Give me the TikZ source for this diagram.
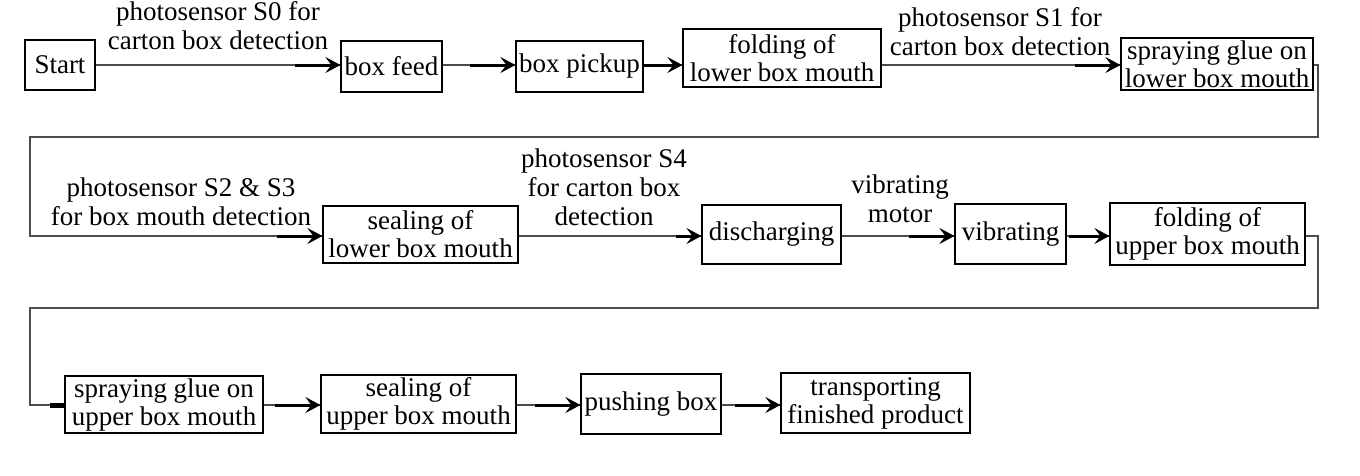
\documentclass[tikz,border=0pt]{standalone}
\usepackage{fontspec}
\setmainfont{Liberation Serif}
\usetikzlibrary{arrows.meta,calc}
\begin{document}
\begin{tikzpicture}[x=1pt,y=-1pt,
  box/.style={draw=black,line width=1.2pt,inner sep=1pt,align=center,
    font=\fontsize{27}{28}\selectfont},
  lab/.style={align=center,inner sep=0pt,anchor=base,
    font=\fontsize{27}{29}\selectfont},
  conn/.style={draw=black!70,line width=2.4pt},
  tip/.style={draw=black,line width=3pt,-{Stealth[length=15pt,width=16pt,inset=6pt]}}
]
\useasboundingbox (0,0) rectangle (1360,475);
\coordinate (r1) at (0,65);
\coordinate (r2) at (0,236);
\coordinate (r3) at (0,405);
\coordinate (rx) at (1318,0);
\coordinate (lx) at (30,0);
\coordinate (b1) at (0,137);
\coordinate (b2) at (0,308);

\node[box,minimum width=70,minimum height=50] (start) at (60,65) {Start};
\node[box,minimum width=101,minimum height=51] (feed) at (391.5,66.5) {box feed};
\node[box,minimum width=127,minimum height=51] (pickup) at (579.5,66.5) {box pickup};
\node[box,minimum width=198,minimum height=58] (foldL) at (782,58) {folding of\\lower box mouth};
\node[box,minimum width=192,minimum height=52] (sprayL) at (1217,64) {spraying glue on\\lower box mouth};
\node[box,minimum width=195,minimum height=57] (sealL) at (420.5,234.5) {sealing of\\lower box mouth};
\node[box,minimum width=139,minimum height=59] (dis) at (771.5,234.5) {discharging};
\node[box,minimum width=111,minimum height=60] (vib) at (1010.5,234) {vibrating};
\node[box,minimum width=195,minimum height=62] (foldU) at (1207.5,234) {folding of\\upper box mouth};
\node[box,minimum width=198,minimum height=57] (sprayU) at (164,404.5) {spraying glue on\\upper box mouth};
\node[box,minimum width=195,minimum height=58] (sealU) at (418.5,404) {sealing of\\upper box mouth};
\node[box,minimum width=140,minimum height=60] (push) at (651,404) {pushing box};
\node[box,minimum width=189,minimum height=60] (trans) at (875.5,403) {transporting\\finished product};

\node[lab] (l0) at (218,49) {photosensor S0 for\\carton box detection};
\node[lab] (l1) at (1000,55) {photosensor S1 for\\carton box detection};
\node[lab] (l23) at (181,225) {photosensor S2 \& S3\\for box mouth detection};
\node[lab] (l4) at (604,225) {photosensor S4\\for carton box\\detection};
\node[lab] (lv) at (900,222) {vibrating\\motor};

% row 1
\draw[conn] (start.east |- r1) -- (feed.west |- r1);
\draw[tip] ([xshift=-45]feed.west |- r1) -- (feed.west |- r1);
\draw[conn] (feed.east |- r1) -- (pickup.west |- r1);
\draw[tip] ([xshift=-45]pickup.west |- r1) -- (pickup.west |- r1);
\draw[conn] (pickup.east |- r1) -- (foldL.west |- r1);
\draw[tip] ([xshift=-38]foldL.west |- r1) -- (foldL.west |- r1);
\draw[conn] (foldL.east |- r1) -- (sprayL.west |- r1);
\draw[tip] ([xshift=-45]sprayL.west |- r1) -- (sprayL.west |- r1);
% wrap 1
\draw[conn] (sprayL.east |- r1) -- (rx |- r1) -- (rx |- b1) -- (lx |- b1) -- (lx |- r2) -- (sealL.west |- r2);
\draw[tip] ([xshift=-45]sealL.west |- r2) -- (sealL.west |- r2);
% row 2
\draw[conn] (sealL.east |- r2) -- (dis.west |- r2);
\draw[tip] ([xshift=-25]dis.west |- r2) -- (dis.west |- r2);
\draw[conn] (dis.east |- r2) -- (vib.west |- r2);
\draw[tip] ([xshift=-45]vib.west |- r2) -- (vib.west |- r2);
\draw[conn] (vib.east |- r2) -- (foldU.west |- r2);
\draw[tip] ([xshift=-40]foldU.west |- r2) -- (foldU.west |- r2);
% wrap 2
\draw[conn] (foldU.east |- r2) -- (rx |- r2) -- (rx |- b2) -- (lx |- b2) -- (lx |- r3) -- (sprayU.west |- r3);
\draw[black,line width=5pt] ([xshift=-14]sprayU.west |- r3) -- (sprayU.west |- r3);
% row 3
\draw[conn] (sprayU.east |- r3) -- (sealU.west |- r3);
\draw[tip] ([xshift=-45]sealU.west |- r3) -- (sealU.west |- r3);
\draw[conn] (sealU.east |- r3) -- (push.west |- r3);
\draw[tip] ([xshift=-45]push.west |- r3) -- (push.west |- r3);
\draw[conn] (push.east |- r3) -- (trans.west |- r3);
\draw[tip] ([xshift=-45]trans.west |- r3) -- (trans.west |- r3);
\end{tikzpicture}
\end{document}
